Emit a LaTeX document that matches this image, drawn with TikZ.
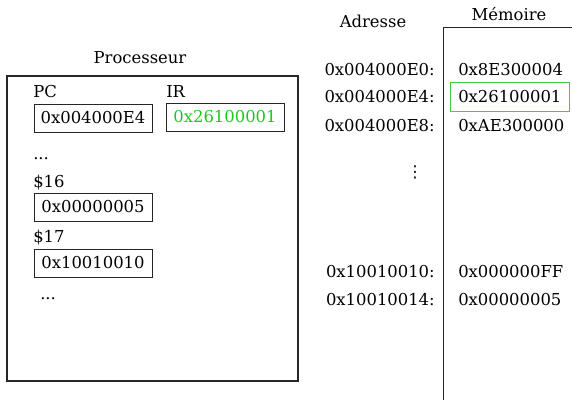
\documentclass[tikz,border=0pt]{standalone}
\usepackage{fontspec}
\setmainfont{DejaVu Serif}
\newfontfamily\symfont{DejaVu Sans}
\definecolor{regtxt}{RGB}{30,200,30}
\definecolor{regline}{RGB}{60,210,60}
\begin{document}
\begin{tikzpicture}[x=0.75pt,y=-0.75pt,
  every node/.style={font=\fontsize{12.3}{14}\selectfont},
  lbl/.style={inner sep=0pt},
  regbox/.style={draw=black!85,line width=0.6pt,inner sep=0pt,minimum width=88.5pt,minimum height=21pt},
  cpubox/.style={draw=black!85,line width=1pt}]
\useasboundingbox (0,0) rectangle (572,400);
% Processor
\node[lbl,anchor=base] (proc) at (140,63) {Processeur};
\draw[cpubox] (7,76) rectangle (298,381);
\node[lbl,anchor=base west] (pclbl) at (33,97) {PC};
\node[lbl,anchor=base west] (irlbl) at (166,97) {IR};
\node[regbox] (pc) at (93,118) {0x004000E4};
\node[regbox,text=regtxt] (ir) at (225,117) {0x26100001};
\node[lbl,anchor=base west] (dots1) at (33,159) {...};
\node[lbl,anchor=base west] (r16lbl) at (33,187) {\$16};
\node[regbox] (r16) at (93,207) {0x00000005};
\node[lbl,anchor=base west] (r17lbl) at (33,242) {\$17};
\node[regbox] (r17) at (93,263) {0x10010010};
\node[lbl,anchor=base west] (dots2) at (40,299) {...};
% Memory
\node[lbl,anchor=base] (adr) at (373,27) {Adresse};
\node[lbl,anchor=base] (mem) at (509,20) {Mémoire};
\coordinate (mtop) at (443,27);
\coordinate (mbot) at (443,400);
\coordinate (mright) at (572,27);
\draw[black!85,line width=0.6pt] (mbot) -- (mtop) -- (mright);
\node[lbl,anchor=base east] (a1) at (435,75) {0x004000E0:};
\node[lbl,anchor=base east] (a2) at (435,102) {0x004000E4:};
\node[lbl,anchor=base east] (a3) at (435,131) {0x004000E8:};
\node[lbl] (vd) at (415,172) {\symfont ⋮};
\node[lbl,anchor=base east] (a4) at (435,277) {0x10010010:};
\node[lbl,anchor=base east] (a5) at (435,305) {0x10010014:};
\node[lbl,anchor=base west] (m1) at (458,75) {0x8E300004};
\node[lbl,anchor=base west] (m2) at (458,102) {0x26100001};
\node[lbl,anchor=base west] (m3) at (458,131) {0xAE300000};
\node[lbl,anchor=base west] (m4) at (458,277) {0x000000FF};
\node[lbl,anchor=base west] (m5) at (458,305) {0x00000005};
\draw[regline,line width=0.6pt] (450,82) rectangle (569,111);
\end{tikzpicture}
\end{document}
